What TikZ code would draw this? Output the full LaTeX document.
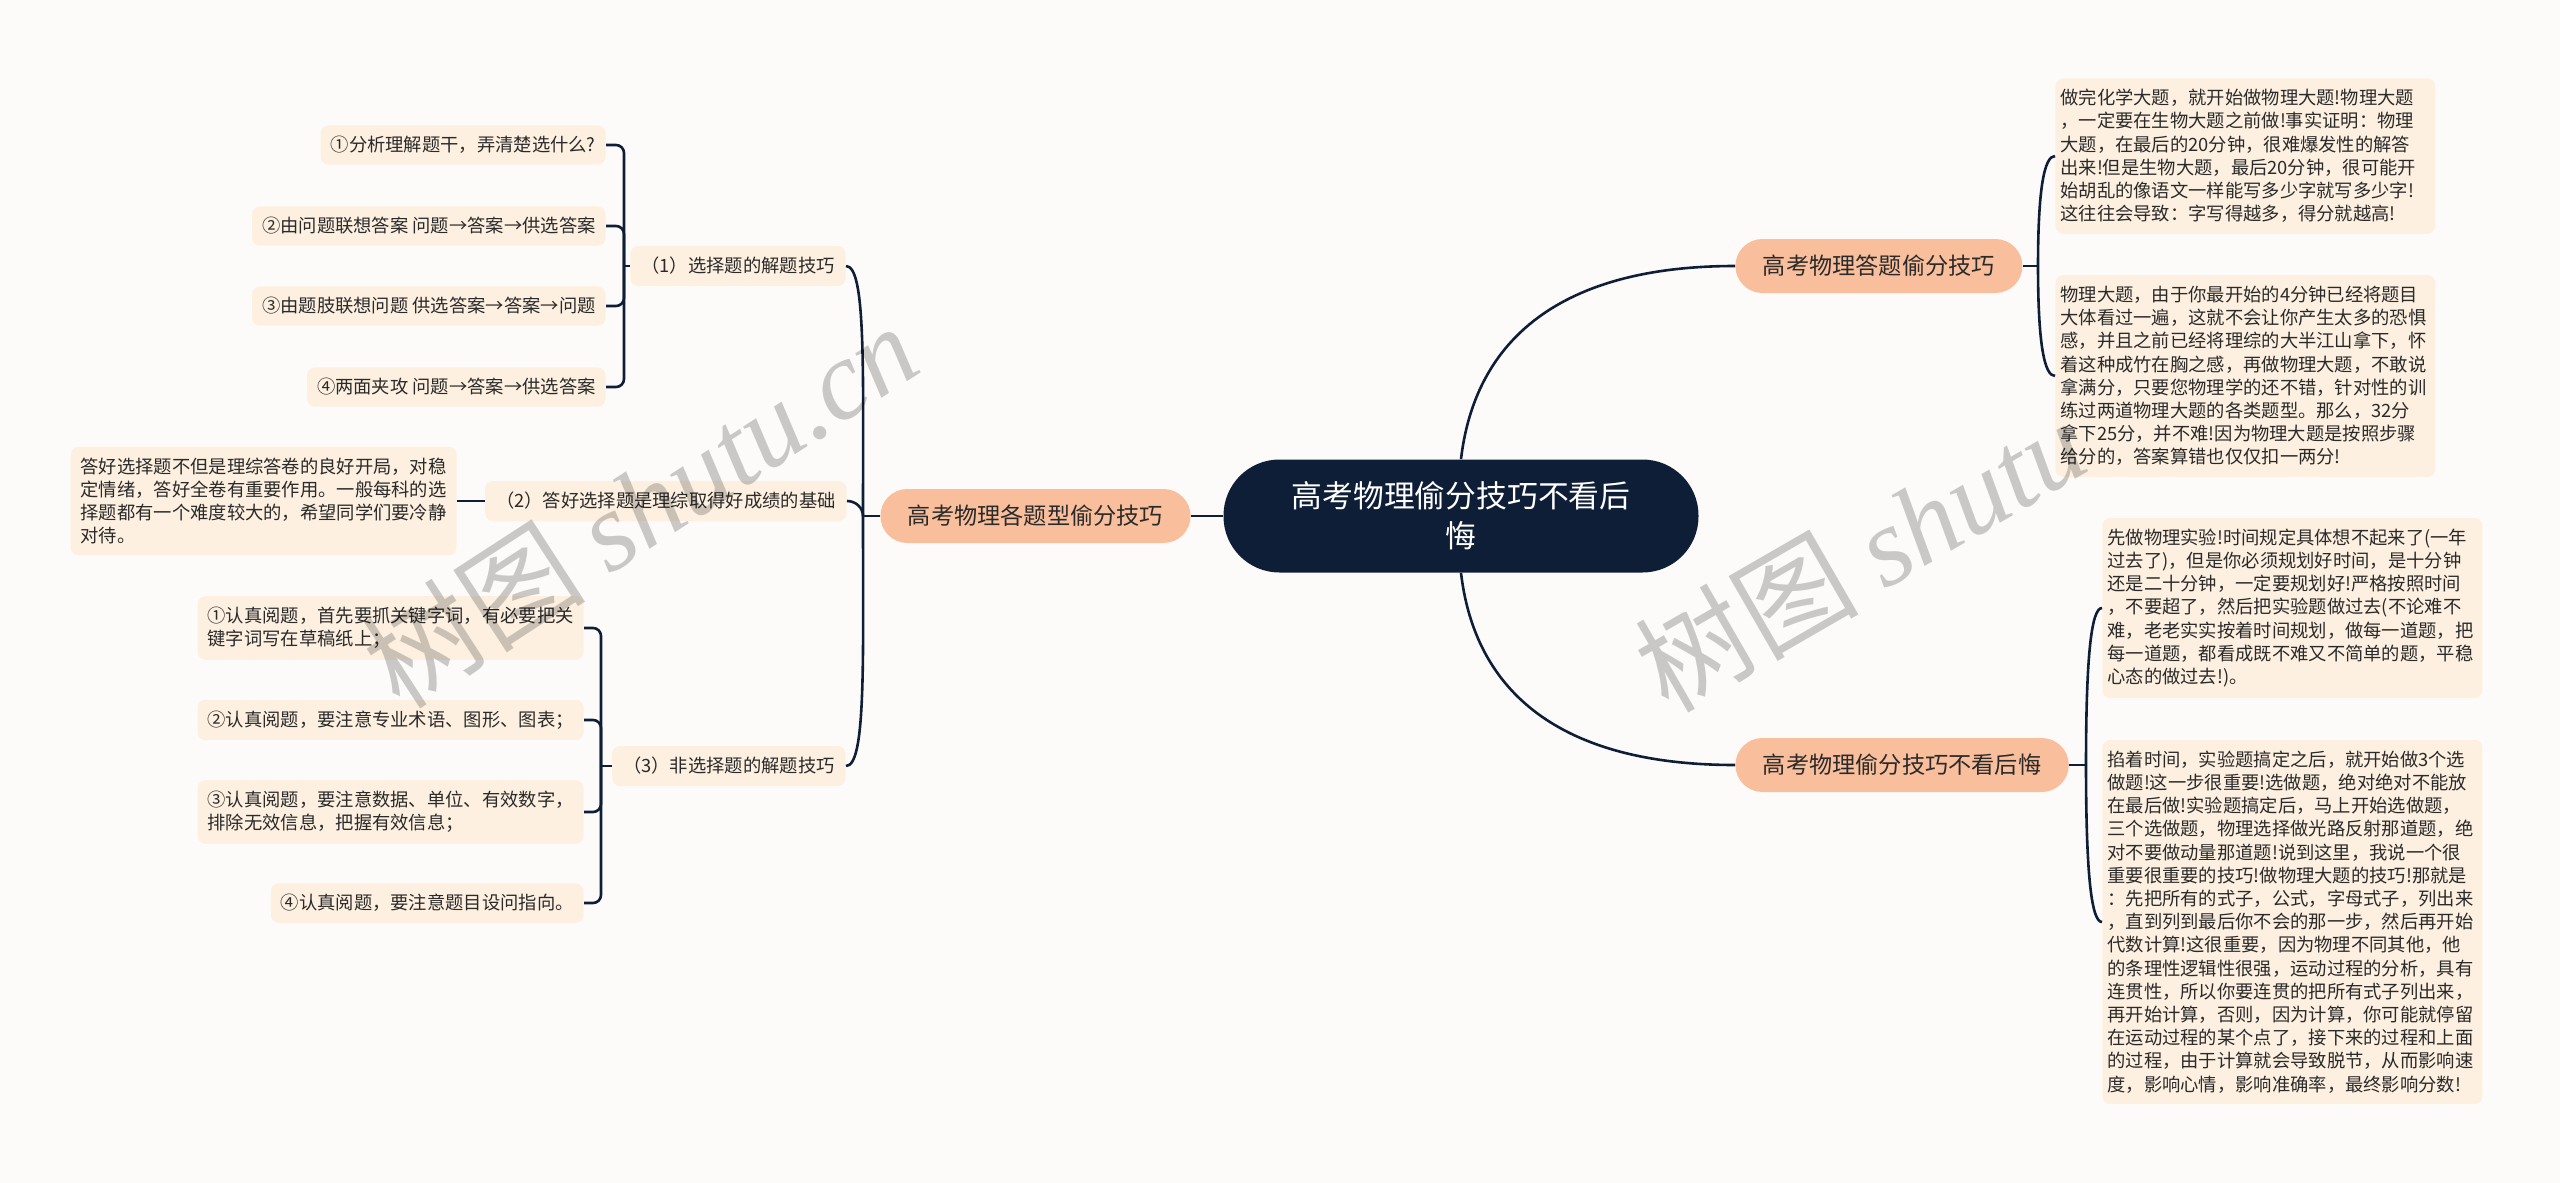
\documentclass[tikz,border=0pt]{standalone}
\usepackage{fontspec}
\setmainfont{Noto Sans CJK SC}
\newfontfamily\wmlatin{Liberation Serif}
\usepackage{tikz}
\usetikzlibrary{positioning}
\definecolor{bgcol}{HTML}{FDFBF9}
\definecolor{rootcol}{HTML}{0F1E37}
\definecolor{branchcol}{HTML}{F9BF9C}
\definecolor{leafcol}{HTML}{FDF0E0}
\definecolor{linecol}{HTML}{0F1E37}
\definecolor{inkcol}{HTML}{2A2A2A}

\begin{document}
\begin{tikzpicture}[
  x=0.5pt, y=-0.5pt,
  rootbox/.style={rectangle, fill=rootcol, rounded corners=28pt, minimum width=237.5pt,
             minimum height=56.5pt, align=center, text=white, inner sep=0pt,
             font=\fontsize{15.4}{20}\selectfont},
  branchbox/.style={rectangle, fill=branchcol, rounded corners=13.5pt, minimum height=27pt,
             inner xsep=13.75pt, inner ysep=0pt, text=inkcol, font=\fontsize{11.6}{14}\selectfont},
  subbox/.style={rectangle, fill=leafcol, rounded corners=4pt, minimum height=20pt,
             inner xsep=5.5pt, inner ysep=0pt, text=inkcol, font=\fontsize{9.15}{11.6}\selectfont},
  leafbox/.style={rectangle, fill=leafcol, rounded corners=4pt, inner xsep=5pt, inner ysep=5.5pt,
             align=left, text=inkcol, font=\fontsize{9.15}{11.6}\selectfont},
  wideleaf/.style={leafbox, text width=185pt, inner xsep=2.5pt},
  link/.style={draw=linecol, line width=1.3pt},
  wmtext/.style={text=black, opacity=0.2, font=\fontsize{56}{56}\selectfont}
]
\useasboundingbox (0,0) rectangle (2560,1183);
\fill[bgcol] (0,0) rectangle (2560,1183);

\node[rootbox] (root) at (1461,516) {高考物理偷分技巧不看后\\悔};

\node[branchbox] (lb) at (1035.5,516) {高考物理各题型偷分技巧};
\node[branchbox, anchor=west] (rb1) at (1735,266) {高考物理答题偷分技巧};
\node[branchbox, anchor=west] (rb2) at (1735,765) {高考物理偷分技巧不看后悔};

\node[subbox, anchor=east] (s1) at (846,266) {（1）选择题的解题技巧};
\node[subbox, anchor=east] (s2) at (847,501) {（2）答好选择题是理综取得好成绩的基础};
\node[subbox, anchor=east] (s3) at (846,766) {（3）非选择题的解题技巧};

\node[leafbox, anchor=east] (a1) at (606,145) {①分析理解题干，弄清楚选什么?};
\node[leafbox, anchor=east] (a2) at (606,226) {②由问题联想答案 问题→答案→供选答案};
\node[leafbox, anchor=east] (a3) at (606,306) {③由题肢联想问题 供选答案→答案→问题};
\node[leafbox, anchor=east] (a4) at (606,387) {④两面夹攻 问题→答案→供选答案};

\node[leafbox, anchor=east] (b1) at (457,501) {%
  答好选择题不但是理综答卷的良好开局，对稳\\
  定情绪，答好全卷有重要作用。一般每科的选\\
  择题都有一个难度较大的，希望同学们要冷静\\
  对待。};

\node[leafbox, anchor=east] (c1) at (584,628) {%
  ①认真阅题，首先要抓关键字词，有必要把关\\
  键字词写在草稿纸上；};
\node[leafbox, anchor=east] (c2) at (584,720) {②认真阅题，要注意专业术语、图形、图表；};
\node[leafbox, anchor=east] (c3) at (584,812) {%
  ③认真阅题，要注意数据、单位、有效数字，\\
  排除无效信息，把握有效信息；};
\node[leafbox, anchor=east] (c4) at (584,903) {④认真阅题，要注意题目设问指向。};

\node[wideleaf, anchor=west] (r11) at (2055,156) {%
  做完化学大题，就开始做物理大题!物理大题\\
  ，一定要在生物大题之前做!事实证明：物理\\
  大题，在最后的20分钟，很难爆发性的解答\\
  出来!但是生物大题，最后20分钟，很可能开\\
  始胡乱的像语文一样能写多少字就写多少字!\\
  这往往会导致：字写得越多，得分就越高!};
\node[wideleaf, anchor=west] (r12) at (2055,376) {%
  物理大题，由于你最开始的4分钟已经将题目\\
  大体看过一遍，这就不会让你产生太多的恐惧\\
  感，并且之前已经将理综的大半江山拿下，怀\\
  着这种成竹在胸之感，再做物理大题，不敢说\\
  拿满分，只要您物理学的还不错，针对性的训\\
  练过两道物理大题的各类题型。那么，32分\\
  拿下25分，并不难!因为物理大题是按照步骤\\
  给分的，答案算错也仅仅扣一两分!};
\node[wideleaf, anchor=west] (r21) at (2102,608) {%
  先做物理实验!时间规定具体想不起来了(一年\\
  过去了)，但是你必须规划好时间，是十分钟\\
  还是二十分钟，一定要规划好!严格按照时间\\
  ，不要超了，然后把实验题做过去(不论难不\\
  难，老老实实按着时间规划，做每一道题，把\\
  每一道题，都看成既不难又不简单的题，平稳\\
  心态的做过去!)。};
\node[wideleaf, anchor=west] (r22) at (2102,922) {%
  掐着时间，实验题搞定之后，就开始做3个选\\
  做题!这一步很重要!选做题，绝对绝对不能放\\
  在最后做!实验题搞定后，马上开始选做题，\\
  三个选做题，物理选择做光路反射那道题，绝\\
  对不要做动量那道题!说到这里，我说一个很\\
  重要很重要的技巧!做物理大题的技巧!那就是\\
  ：先把所有的式子，公式，字母式子，列出来\\
  ，直到列到最后你不会的那一步，然后再开始\\
  代数计算!这很重要，因为物理不同其他，他\\
  的条理性逻辑性很强，运动过程的分析，具有\\
  连贯性，所以你要连贯的把所有式子列出来，\\
  再开始计算，否则，因为计算，你可能就停留\\
  在运动过程的某个点了，接下来的过程和上面\\
  的过程，由于计算就会导致脱节，从而影响速\\
  度，影响心情，影响准确率，最终影响分数!};

% left side
\coordinate (jl) at (863,516);
\coordinate (ja) at (624,266);
\coordinate (jc) at (601,766);
\draw[link] (root.west) -- (lb.east);
\draw[link] (lb.west) -- (jl);
\draw[link] (jl) .. controls (863,370) and (866,266) .. (s1.east);
\draw[link] (jl) .. controls (863,508) and (856,501) .. (s2.east);
\draw[link] (jl) .. controls (863,662) and (866,766) .. (s3.east);
\draw[link] (s1.west) -- (ja);
\draw[link, rounded corners=4pt] (ja) |- (a1.east);
\draw[link, rounded corners=4pt] (ja) |- (a2.east);
\draw[link, rounded corners=4pt] (ja) |- (a3.east);
\draw[link, rounded corners=4pt] (ja) |- (a4.east);
\draw[link] (s2.west) -- (b1.east);
\draw[link] (s3.west) -- (jc);
\draw[link, rounded corners=4pt] (jc) |- (c1.east);
\draw[link, rounded corners=4pt] (jc) |- (c2.east);
\draw[link, rounded corners=4pt] (jc) |- (c3.east);
\draw[link, rounded corners=4pt] (jc) |- (c4.east);

% right side
\coordinate (jr1) at (2038,266);
\coordinate (jr2) at (2086,765);
\draw[link] (root.north) .. controls (1475,340) and (1560,266) .. (rb1.west);
\draw[link] (root.south) .. controls (1475,692) and (1560,765) .. (rb2.west);
\draw[link] (rb1.east) -- (jr1);
\draw[link] (jr1) .. controls (2038,190) and (2044,156) .. (r11.west);
\draw[link] (jr1) .. controls (2038,342) and (2044,376) .. (r12.west);
\draw[link] (rb2.east) -- (jr2);
\draw[link] (jr2) .. controls (2086,650) and (2092,608) .. (r21.west);
\draw[link] (jr2) .. controls (2086,880) and (2092,922) .. (r22.west);

\node[wmtext, rotate=33] (wm1) at (640,505) {树图 {\wmlatin\itshape shutu.cn}};
\node[wmtext, rotate=30] (wm2) at (1860,555) {树图 {\wmlatin\itshape shutu}};
\end{tikzpicture}
\end{document}
